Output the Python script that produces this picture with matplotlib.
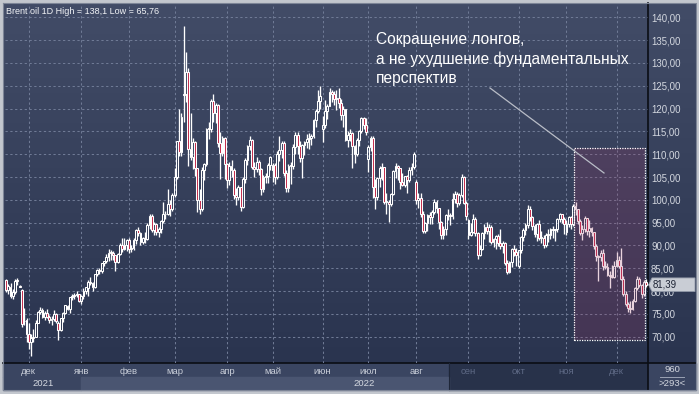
import numpy as np
import pandas as pd
import matplotlib
matplotlib.use('Agg')
import matplotlib.pyplot as plt
from matplotlib.patches import Rectangle, Polygon
from matplotlib.colors import LinearSegmentedColormap
import matplotlib.transforms as mtrans

# ---- data: (open, high, low, close) per trading day, Brent oil 1D ----
nov21 = [(82.4,82.6,79.9,80.3),(80.2,81.5,79.3,81.2),(81.0,81.7,78.5,78.9),(78.9,80.4,78.3,79.7),
         (79.7,82.6,79.3,82.3),(82.3,82.9,81.4,82.2),(81.2,81.4,80.8,81.0),(80.3,80.5,72.1,72.7),
         (73.5,76.3,72.5,73.4),(73.6,74.2,68.9,70.6)]
dec21 = [(70.6,72.9,67.4,68.9),(68.9,70.6,65.76,69.7),(69.7,71.8,68.8,69.9),(70.0,73.6,69.9,73.1),
         (73.1,75.7,72.9,75.4),(75.4,76.6,75.0,75.8),(75.8,76.4,74.0,74.4),(74.3,75.6,73.6,75.2),
         (75.2,76.0,74.2,74.4),(74.4,74.8,72.9,73.7),(73.7,74.5,72.6,73.9),(73.9,75.8,73.4,75.0),
         (75.0,75.2,72.9,73.5),(73.0,73.4,69.3,71.5),(71.5,74.2,71.3,74.0),(74.0,75.5,73.3,75.3),
         (75.3,76.9,74.9,76.9),(76.8,76.9,75.8,76.1),(76.1,78.8,75.2,78.6),(78.6,79.4,78.0,78.9),
         (78.9,79.6,78.2,79.2),(79.2,80.0,78.6,79.3),(79.3,79.4,77.6,77.8)]
jan22 = [(77.9,79.2,77.1,79.0),(79.0,80.6,78.2,80.0),(80.0,81.0,79.3,80.8),(80.6,82.4,79.0,82.0),
         (82.0,83.0,81.3,81.8),(81.8,82.0,80.0,80.9),(80.9,83.8,80.7,83.7),(83.7,84.9,83.4,84.7),
         (84.7,85.0,83.7,84.5),(84.5,86.2,84.0,86.1),(86.1,86.7,85.6,86.5),(86.5,88.1,86.2,87.5),
         (87.5,89.2,86.6,88.4),(88.4,89.1,86.9,88.4),(88.4,88.8,86.9,87.9),(87.9,88.0,84.5,86.3),
         (86.3,88.4,86.1,88.2),(88.2,90.5,87.8,90.0),(90.0,91.7,88.6,89.3),(89.3,91.7,89.1,90.0),
         (90.0,91.4,88.8,91.2)]
feb22 = [(91.2,91.7,88.3,89.2),(89.2,90.0,88.5,89.5),(89.5,91.7,88.9,91.1),(91.1,93.7,90.4,93.3),
         (93.3,94.0,92.0,92.7),(92.7,93.0,90.2,90.8),(90.8,91.9,90.3,91.6),(91.6,93.0,90.6,91.4),
         (91.4,95.0,91.3,94.4),(94.4,96.8,93.6,96.5),(96.5,96.8,92.9,93.3),(93.3,95.1,92.4,94.8),
         (94.8,95.0,92.3,93.0),(93.0,94.0,91.8,93.5),(93.5,95.6,92.8,95.4),(95.4,99.6,94.9,96.8),
         (96.8,97.5,95.8,96.8),(96.8,102.4,96.6,99.1),(99.1,100.0,96.5,97.9),(98.0,101.6,97.6,101.0)]
mar22 = [(101.0,107.0,100.6,105.0),(105.0,113.0,104.5,112.9),(112.9,119.8,109.5,110.5),
         (110.5,119.0,109.5,118.1),(123.0,138.1,117.0,123.2),(123.2,132.5,121.5,128.0),
         (128.0,129.0,107.5,111.1),(111.1,119.0,108.8,109.3),(109.3,113.5,106.7,112.7),
         (112.7,112.9,105.2,106.9),(106.9,107.0,97.4,99.9),(99.9,102.3,97.0,98.0),
         (98.0,107.2,97.6,106.6),(106.6,108.0,104.4,107.9),(107.9,115.8,107.4,115.6),
         (115.6,117.0,113.4,115.5),(115.5,122.0,114.8,121.6),(121.6,123.3,117.0,119.0),
         (119.0,121.2,116.8,120.7),(120.7,120.9,111.5,112.5),(112.5,114.9,104.6,110.2),
         (110.2,114.0,109.5,113.5),(113.5,113.7,104.6,107.9)]
apr22 = [(107.9,108.0,102.6,104.4),(104.4,108.4,103.3,107.5),(107.5,108.8,104.9,106.6),
         (106.6,107.0,100.2,101.1),(101.1,102.7,98.9,100.6),(100.6,103.2,99.9,102.8),
         (102.8,102.9,97.6,98.5),(98.5,105.0,98.2,104.6),(104.6,109.2,103.6,108.8),
         (108.8,112.0,107.6,111.7),(111.7,114.0,111.0,113.2),(113.2,113.4,106.8,107.3),
         (107.3,108.3,105.0,106.8),(106.8,109.4,106.2,108.3),(108.3,108.8,105.4,106.7),
         (106.7,106.9,101.0,102.3),(102.3,105.5,101.7,105.0),(105.0,105.9,103.6,105.3),
         (105.3,108.0,103.6,107.6),(107.6,109.5,106.6,109.3)]
may22 = [(106.5,108.0,104.0,107.6),(107.6,108.0,103.4,105.0),(105.0,110.8,104.5,110.1),
         (110.1,114.0,108.6,111.0),(111.0,113.0,109.1,112.4),(112.4,113.0,105.2,105.9),
         (105.9,106.5,101.7,102.5),(102.5,107.9,101.7,107.5),(107.5,108.3,103.5,107.5),
         (107.5,112.2,106.8,111.6),(111.6,114.8,110.0,114.2),(114.2,114.8,110.0,111.9),
         (111.9,113.0,108.4,109.1),(109.1,112.2,104.7,112.0),(112.0,113.0,109.8,112.6),
         (112.6,114.5,111.3,113.4),(113.4,114.6,111.2,113.6),(113.6,114.4,112.0,114.0),
         (114.0,117.7,113.6,117.4),(117.4,120.0,116.0,119.4),(119.4,124.0,119.0,121.7),
         (121.7,125.0,120.0,122.8)]
jun22 = [(115.6,118.3,112.7,116.3),(116.3,121.9,115.8,119.5),(119.5,121.0,117.8,120.6),
         (120.6,124.4,120.5,123.6),(123.6,124.0,121.5,123.1),(123.1,123.8,120.7,122.0),
         (122.0,124.0,119.7,122.3),(122.3,124.6,120.1,121.2),(121.2,122.0,117.6,118.5),
         (118.5,120.5,116.0,119.8),(119.8,119.9,112.9,113.1),(113.1,115.0,111.6,114.1),
         (114.1,115.6,113.0,114.7),(114.7,114.9,107.0,111.7),(111.7,112.0,108.0,110.1),
         (110.1,113.5,109.5,113.1),(113.1,115.3,111.8,115.1),(115.1,118.2,114.6,118.0),
         (118.0,118.2,115.5,116.3),(116.3,118.0,114.1,114.8)]
jul22 = [(109.0,112.0,106.2,111.6),(111.6,113.9,110.7,113.5),(113.5,114.0,100.3,102.8),
         (102.8,104.5,98.0,100.7),(100.7,105.0,100.0,104.7),(104.7,107.5,102.9,107.0),
         (107.0,108.0,104.3,107.1),(107.1,107.2,99.0,99.5),(99.5,101.5,96.9,99.6),
         (99.6,100.0,95.1,99.1),(99.1,101.6,98.7,101.2),(101.2,106.6,101.0,106.3),
         (106.3,108.0,104.7,107.4),(107.4,107.6,104.3,106.9),(106.9,107.0,102.3,103.9),
         (103.9,105.9,103.0,103.2),(103.2,105.3,102.9,105.2),(105.2,105.4,101.4,104.4),
         (104.4,107.3,104.0,106.6),(106.6,108.0,105.5,107.1),(107.1,110.5,106.7,110.0)]
aug22 = [(103.9,104.4,99.1,100.0),(100.0,101.5,98.2,100.5),(100.5,101.5,96.2,96.8),
         (96.8,97.5,92.8,93.1),(93.1,95.2,92.8,94.9),(94.9,97.0,93.2,96.7),
         (96.7,97.4,94.8,96.3),(96.3,97.8,94.6,97.4),(97.4,100.1,96.9,99.6),
         (99.6,99.9,97.1,98.2),(98.2,98.3,93.6,95.1),(95.1,95.4,91.5,92.3),
         (92.3,94.3,91.5,93.7),(93.7,96.9,92.4,96.6),(96.6,98.0,95.6,96.7),
         (96.7,97.2,94.4,96.5),(96.5,101.4,95.7,100.2),(100.2,102.0,99.3,101.2),
         (101.2,101.8,98.5,99.3),(99.3,101.5,98.8,101.0),(101.0,105.6,100.6,105.1),
         (105.1,105.3,99.0,99.3),(99.3,99.8,95.6,96.5)]
sep22 = [(95.6,95.8,91.5,92.4),(92.4,95.0,92.0,93.0),(93.0,97.0,92.8,95.7),(95.7,96.2,92.1,92.8),
         (92.8,93.0,87.0,88.0),(88.0,90.0,87.6,89.2),(89.2,93.0,89.0,92.8),(92.8,94.6,91.4,94.0),
         (94.0,95.2,92.5,93.2),(93.2,94.7,90.7,94.1),(94.1,94.5,90.3,90.8),(90.8,91.7,89.6,91.4),
         (91.4,92.2,89.3,92.0),(92.0,92.5,89.8,90.6),(90.6,93.7,89.3,89.8),(89.8,91.0,88.4,90.5),
         (90.5,90.7,85.7,86.2),(86.2,86.9,83.7,84.1),(84.1,86.7,84.0,86.3),(86.3,89.5,85.3,89.3),
         (89.3,90.2,87.6,88.5),(88.5,89.4,85.4,87.9)]
oct22 = [(85.5,89.0,85.0,88.9),(88.9,92.0,88.4,91.8),(91.8,93.9,90.9,93.4),(93.4,94.9,92.3,94.4),
         (94.4,98.8,93.9,97.9),(97.9,98.7,95.4,96.2),(96.2,96.4,93.3,94.3),(94.3,94.6,91.8,92.5),
         (92.5,95.0,91.0,94.6),(94.6,95.5,91.2,91.6),(91.6,93.2,90.5,91.6),(91.6,92.4,89.4,90.0),
         (90.0,92.8,89.6,92.4),(92.4,93.7,90.8,92.4),(92.4,93.9,91.4,93.5),(93.5,94.3,91.6,93.3),
         (93.3,93.7,91.0,93.5),(93.5,96.1,92.9,95.7),(95.7,97.2,95.1,97.0),(97.0,97.0,95.0,95.8),
         (95.8,96.2,92.6,94.8)]
nov22 = [(93.0,95.5,92.4,94.7),(94.7,96.5,94.0,96.2),(96.2,96.5,93.6,94.7),(94.7,99.0,94.2,98.6),
         (98.6,99.6,96.7,97.9),(97.9,98.0,94.6,95.4),(95.4,95.9,92.3,92.7),(92.7,94.4,91.3,93.7),
         (93.7,96.5,93.0,96.0),(96.0,96.0,92.4,93.1),(93.1,95.5,91.8,93.9),(93.9,94.0,92.0,92.9),
         (92.9,93.0,89.3,89.8),(89.8,90.3,86.7,87.6),(87.6,88.0,82.3,87.5),(87.5,89.0,86.6,88.4),
         (88.4,89.3,84.6,85.4),(85.4,86.5,84.9,85.3),(85.3,86.2,83.3,83.6),(83.6,84.3,80.6,83.2),
         (83.2,85.7,82.9,83.0),(83.0,86.7,82.9,85.4)]
dec22 = [(85.4,88.5,85.2,86.9),(86.9,87.7,85.1,85.6),(85.6,89.4,82.4,82.7),(82.7,83.4,79.0,79.4),
         (79.4,80.0,76.8,77.2),(77.2,77.7,75.5,76.2),(76.2,77.8,75.1,76.1),(76.1,78.3,75.9,77.9),
         (77.9,81.0,77.6,80.6),(80.6,83.3,80.2,82.7),(82.7,83.1,80.8,81.3),(81.3,81.6,78.5,79.3),
         (79.3,82.4,78.9,82.0),(82.0,82.6,80.9,81.39)]

first_day = '2021-11-17'
closed_days = ['2022-04-15', '2022-06-02', '2022-06-03']
month_names = ['янв', 'фев', 'мар', 'апр', 'май', 'июн', 'июл', 'авг', 'сен', 'окт', 'ноя', 'дек']
dim_months = ['2022-09', '2022-10', '2022-11', '2022-12']
price_ticks = list(range(70, 141, 5))
title = 'Brent oil 1D High = 138,1 Low = 65,76'
note = 'Сокращение лонгов,\nа не ухудшение фундаментальных\nперспектив'
box_from, box_lo, box_hi = '2022-11-04', 69.28, 111.36

rows = nov21 + dec21 + jan22 + feb22 + mar22 + apr22 + may22 + jun22 + jul22 + aug22 + sep22 + oct22 + nov22 + dec22
opens = np.array([r[0] for r in rows])
highs = np.array([r[1] for r in rows])
lows = np.array([r[2] for r in rows])
closes = np.array([r[3] for r in rows])
n = len(rows)
idx = np.arange(n)
dates = pd.bdate_range(first_day, periods=n, freq='C', holidays=closed_days)

plt.rcParams['font.family'] = ['Liberation Sans', 'DejaVu Sans']

W, H = 699, 394
fig = plt.figure(figsize=(W / 100, H / 100), dpi=100, facecolor='#c3c7ce')
bg = fig.add_axes([0, 0, 1, 1], zorder=0)
bg.set_xlim(0, W); bg.set_ylim(H, 0); bg.axis('off')

L, R, T, B = 5, 648, 5, 363
ax = fig.add_axes([L / W, 1 - B / H, (R - L) / W, (B - T) / H], zorder=1)
ax.set_facecolor('none')
for s in ax.spines.values():
    s.set_visible(False)

x0, x1 = -0.44, n - 1 + 0.8
ax.set_xlim(x0, x1)
ax.set_ylim(64.24, 142.7)

def px(i):
    return L + (i - x0) / (x1 - x0) * (R - L)

# background gradient (chart + price panel)
grad = np.linspace(0, 1, 256).reshape(-1, 1)
cmap = LinearSegmentedColormap.from_list('g', ['#424c67', '#2a344f'])
bg.imshow(grad, cmap=cmap, extent=(3, 696, B, 3), aspect='auto', zorder=0, interpolation='bilinear')

# month starts
ms = [i for i in range(1, n) if dates[i].month != dates[i - 1].month]
jan_px = px([i for i in ms if dates[i].year == 2022][0])
dim_px = 449

# bottom strips
bg.add_patch(Rectangle((3, B), dim_px - 3, 14, color='#3a4561', zorder=1))
bg.add_patch(Rectangle((dim_px, B), R - dim_px, 27, color='#28324a', zorder=1))
bg.add_patch(Rectangle((3, B + 14), jan_px - 3, 13, color='#3a4561', zorder=1))
bg.add_patch(Rectangle((jan_px, B + 14), dim_px - jan_px, 13, color='#4a5571', zorder=1))
bg.add_patch(Rectangle((R, B), 696 - R, 27, color='#3a4561', zorder=1))
bg.plot([3, 696], [B, B], color='#0a0d14', lw=1.2, zorder=2)
bg.plot([R, R], [3, B + 27], color='#0a0d14', lw=1.2, zorder=2)
bg.plot([dim_px, dim_px], [B, B + 27], color='#1e2638', lw=0.8, zorder=2)
bg.plot([3, 696, 696, 3, 3], [3, 3, B + 27, B + 27, 3], color='#7d8597', lw=0.8, zorder=2)

# year labels
bg.text((L + jan_px) / 2, B + 21, '2021', ha='center', va='center', fontsize=6.8, color='#d4d8e0', zorder=3)
bg.text((jan_px + R) / 2, B + 21, '2022', ha='center', va='center', fontsize=6.8, color='#d4d8e0', zorder=3)
bg.text((R + 696) / 2, B + 7, '960', ha='center', va='center', fontsize=6.8, color='#d4d8e0', zorder=3)
bg.plot([R + 12, 696 - 12], [B + 13.5, B + 13.5], color='#9aa2b4', lw=0.7, zorder=3)
bg.text((R + 696) / 2, B + 21, '>293<', ha='center', va='center', fontsize=6.8, color='#d4d8e0', zorder=3)

# title
bg.text(6, 11, title, ha='left', va='center', fontsize=6.5, color='#f2f4f7', zorder=3)

# grid and ticks
ax.set_axisbelow(True)
ax.set_xticks(ms)
ax.set_xticklabels([month_names[dates[i].month - 1] for i in ms])
for lab, i in zip(ax.get_xticklabels(), ms):
    lab.set_color('#5f6a86' if dates[i].strftime('%Y-%m') in dim_months else '#c8cdd8')
ax.set_yticks(price_ticks)
ax.set_yticklabels([f'{v:.2f}'.replace('.', ',') for v in price_ticks])
ax.yaxis.tick_right()
ax.tick_params(axis='y', length=0, pad=2.2, labelsize=6.9, labelcolor='#d4d8e0')
ax.tick_params(axis='x', length=0, pad=3.0, labelsize=6.8)
ax.grid(True, color='#6f7a95', lw=0.75, linestyle=(0, (2.2, 2.4)))

# candles
up = closes >= opens
blo = np.minimum(opens, closes)
bhi = np.maximum(opens, closes)
hgt = np.maximum(bhi - blo, 0.15)
ax.vlines(idx, bhi, highs, color='white', lw=0.95, zorder=3)
ax.vlines(idx, lows, blo, color='white', lw=0.95, zorder=3)
ax.bar(idx[up], hgt[up], bottom=blo[up], width=0.8, facecolor='none', edgecolor='white', lw=0.75, zorder=3)
ax.bar(idx[~up], hgt[~up], bottom=blo[~up], width=0.8, facecolor='#c22848', edgecolor='white', lw=0.75, zorder=3)

# highlighted box
bx0 = int(np.where(dates == pd.Timestamp(box_from))[0][0]) + 0.3
bx1 = n - 1 - 0.5
ax.add_patch(Rectangle((bx0, box_lo), bx1 - bx0, box_hi - box_lo, facecolor=(0.62, 0.22, 0.40, 0.22),
                       edgecolor='none', zorder=4))
ax.add_patch(Rectangle((bx0, box_lo), bx1 - bx0, box_hi - box_lo, fill=False, edgecolor='white',
                       lw=0.9, linestyle=(0, (1, 1)), zorder=5))

# annotation
ax.text(376, 32, note, transform=bg.transData, ha='left', va='top', fontsize=11.2, color='white',
        linespacing=1.33, zorder=6, clip_on=False)
ax.plot([490, 604], [88, 173], transform=bg.transData, color='#b9bdc7', lw=0.9, zorder=6, clip_on=False)

# last price marker
last = closes[-1]
bt = mtrans.blended_transform_factory(bg.transData, ax.transData)
ax.add_patch(Polygon([(R + 0.5, last), (R + 4, last + 1.5), (695, last + 1.5), (695, last - 1.5),
                      (R + 4, last - 1.5)], closed=True, transform=bt, facecolor='#c9cdd5',
                     edgecolor='#8e96a6', lw=0.6, zorder=10, clip_on=False))
ax.text(R + 5, last, f'{last:.2f}'.replace('.', ','), transform=bt, ha='left', va='center',
        fontsize=6.9, color='#1c2233', zorder=11, clip_on=False)

fig.savefig('out.png', dpi=100, facecolor=fig.get_facecolor())
